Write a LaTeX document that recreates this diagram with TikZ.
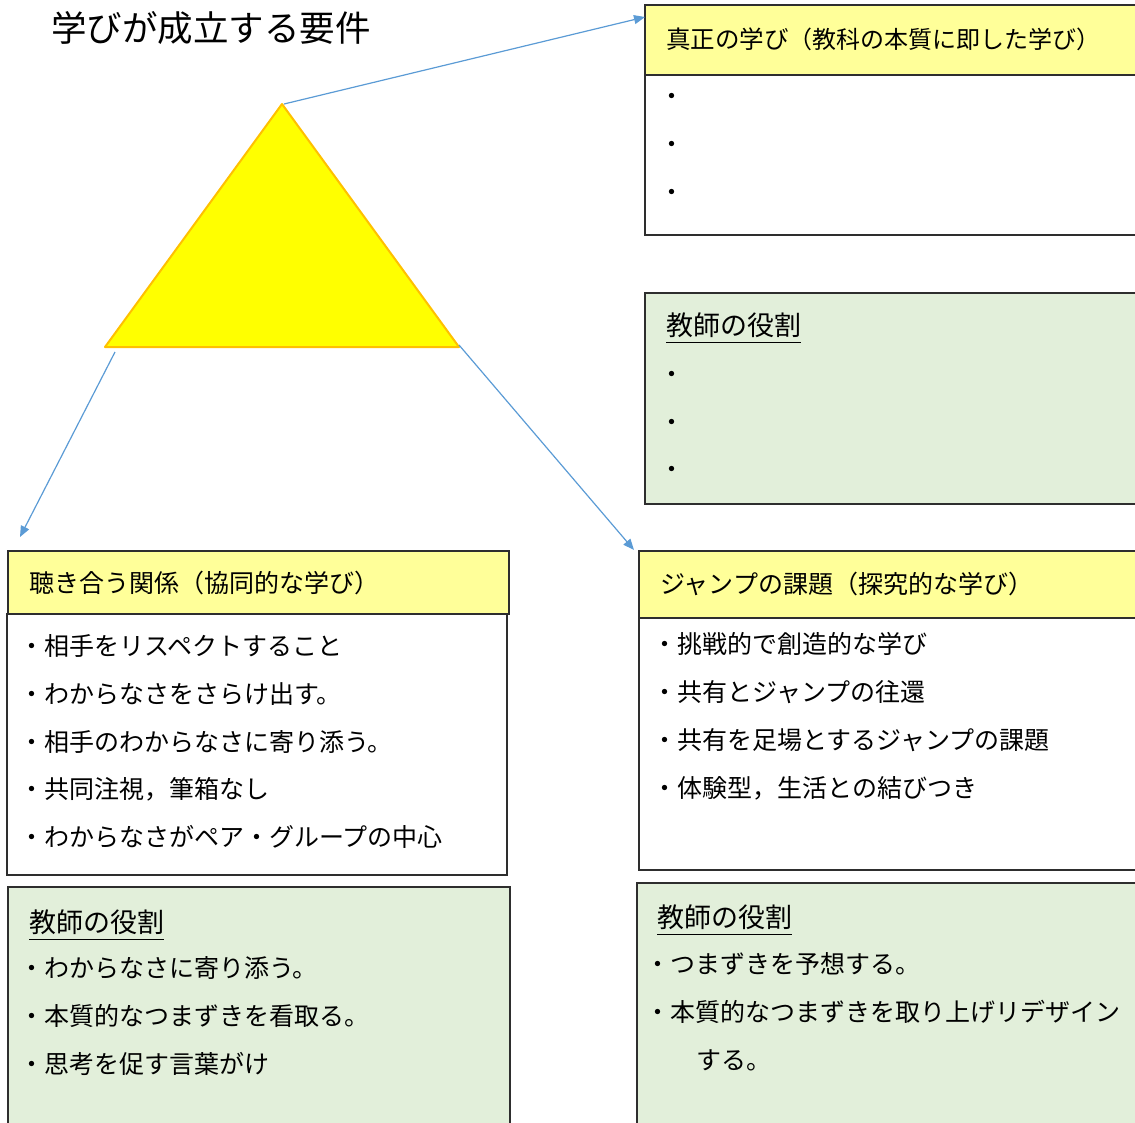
\documentclass[tikz,border=0pt]{standalone}
\usepackage{fontspec}
\setmainfont{Noto Sans CJK JP}
\usetikzlibrary{arrows.meta,positioning,calc}
\definecolor{pale}{HTML}{FFFF99}
\definecolor{sage}{HTML}{E2EFDA}
\definecolor{linkblue}{HTML}{5B9BD5}
\definecolor{rim}{HTML}{2E2E2E}
\definecolor{tri}{HTML}{FFFF00}
\definecolor{triedge}{HTML}{FFC000}
\newcommand{\fs}[1]{\fontsize{#1}{#1}\selectfont}

\begin{document}
\begin{tikzpicture}[x=1pt, y=-1pt, every node/.style={inner sep=0pt, outer sep=0pt},
    panel/.style={draw=rim, line width=1.1pt, anchor=north west},
    head/.style={panel, fill=pale},
    note/.style={panel, fill=sage},
    txt/.style={anchor=west, font=\fs{25}},
    link/.style={draw=linkblue, line width=1.2pt, -{Triangle[length=11pt,width=9pt]}},
    uline/.style={line width=1.8pt}]
  \useasboundingbox (0,0) rectangle (1135,1122);

  % title and triangle
  \node[anchor=west, font=\fs{35.5}] (title) at (51,28) {学びが成立する要件};
  \coordinate (apex) at (282,104);
  \coordinate (bl) at (105,347);
  \coordinate (br) at (459,347);
  \draw[fill=tri, draw=triedge, line width=2pt, line join=round] (apex) -- (bl) -- (br) -- cycle;

  % panels
  \node[head, minimum width=495pt, minimum height=70pt] (truthhead) at (645,5) {};
  \node[panel, minimum width=495pt, minimum height=160pt] (truthbody) at (645,75) {};
  \node[note, minimum width=495pt, minimum height=211pt] (roletop) at (645,293) {};
  \node[head, minimum width=501pt, minimum height=63pt] (listenhead) at (8,551) {};
  \node[panel, minimum width=500pt, minimum height=261pt] (listenbody) at (7,614) {};
  \node[head, minimum width=501pt, minimum height=67pt] (jumphead) at (639,551) {};
  \node[panel, minimum width=501pt, minimum height=252pt] (jumpbody) at (639,618) {};
  \node[note, minimum width=502pt, minimum height=243pt] (roleleft) at (8,887) {};
  \node[note, minimum width=503pt, minimum height=247pt] (roleright) at (637,883) {};

  % connectors
  \draw[link] ([xshift=2pt]apex) -- ([yshift=-12pt]truthhead.north west);
  \draw[link] ([xshift=10pt,yshift=-5pt]bl) -- ([xshift=12pt,yshift=14pt]listenhead.north west);
  \draw[link] ([yshift=2pt]br) -- ([xshift=-5pt,yshift=1pt]jumphead.north west);

  % headings
  \node[anchor=west] (truthtxt) at (666,39) {\fs{24.5}真正の学び\fs{24}（教科の本質に即した学び）};
  \node[txt] (listentxt) at (29,583) {聴き合う関係（協同的な学び）};
  \node[txt] (jumptxt) at (660,584) {ジャンプの課題（探究的な学び）};

  % empty bullets
  \foreach \y [count=\i] in {99,147,195}
    \node[txt] (truth\i) at (659.5,\y) {・};
  \foreach \y [count=\i] in {377,425,472}
    \node[txt] (roletop\i) at (659.5,\y) {・};

  % teacher role headings
  \foreach \n/\x/\y in {roletophd/666/325, roleleftHd/29/922, rolerightHd/657/917}{
    \node[anchor=west, font=\fs{27}] (\n) at (\x,\y) {教師の役割};
    \draw[uline] ([yshift=-5pt]\n.south west) -- ([yshift=-5pt]\n.south east);
  }

  % lists
  \foreach \t [count=\i] in {相手をリスペクトすること, わからなさをさらけ出す。,
      相手のわからなさに寄り添う。, {共同注視，筆箱なし}, わからなさがペア・グループの中心}
    \node[txt] (listen\i) at (19.5,{646+47.75*(\i-1)}) {・\t};
  \foreach \t [count=\i] in {挑戦的で創造的な学び, 共有とジャンプの往還,
      共有を足場とするジャンプの課題, {体験型，生活との結びつき}}
    \node[txt] (jump\i) at (652.5,{644+48*(\i-1)}) {・\t};
  \foreach \t [count=\i] in {わからなさに寄り添う。, 本質的なつまずきを看取る。, 思考を促す言葉がけ}
    \node[txt] (tleft\i) at (19.5,{968+48*(\i-1)}) {・\t};
  \foreach \t [count=\i] in {つまずきを予想する。, 本質的なつまずきを取り上げリデザイン}
    \node[txt] (tright\i) at (645.5,{964+48*(\i-1)}) {・\t};
  \node[txt] (tright3) at (696,1060) {する。};
\end{tikzpicture}
\end{document}
